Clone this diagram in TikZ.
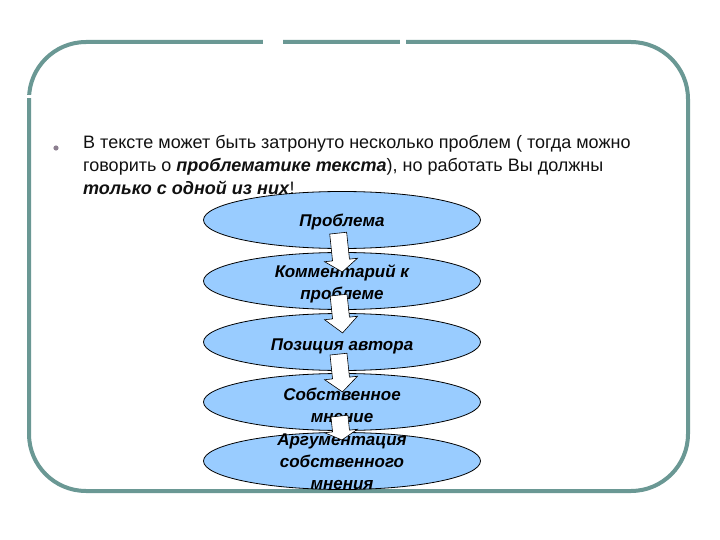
\documentclass[tikz,border=0pt]{standalone}
\usepackage{fontspec}
\setmainfont{Liberation Sans}
\usetikzlibrary{shapes.geometric}
\definecolor{framec}{HTML}{6A9894}
\definecolor{ovalfill}{HTML}{99CCFF}
\definecolor{bulletc}{HTML}{8C7F90}
\definecolor{bodytext}{HTML}{111111}
\newcommand\blockarrowat[5]{%
  \draw[barrow, rotate around={#5:(#1,#3)}]
    (#1-8.5,#2) -- (#1+8.5,#2) -- (#1+8.5,#3) -- (#1+16.5,#3) -- (#1,#4)
    -- (#1-16.5,#3) -- (#1-8.5,#3) -- cycle;}
\begin{document}
\begin{tikzpicture}[x=1pt,y=-1pt,
  oval/.style={ellipse, draw=black, line width=0.8pt, fill=ovalfill,
    minimum width=277pt, minimum height=57pt, inner sep=0pt},
  otext/.style={font=\fontsize{17}{22}\selectfont\bfseries\itshape,
    align=center, text=black, inner sep=0pt},
  barrow/.style={draw=black, fill=white, line width=0.6pt, line join=miter}]
\useasboundingbox (0,0) rectangle (720,540);
\fill[white] (0,0) rectangle (720,540);
% frame
\draw[framec, line width=4pt, rounded corners=57pt] (29,42) rectangle (688,491);
\fill[white] (263,38) rectangle (283,46);
\fill[white] (400,38) rectangle (406,46);
\fill[white] (26,95) rectangle (32,98);
% bullet and text
\fill[bulletc] (56,148) circle (2.6);
\node[anchor=north west, inner sep=0pt, align=left, text=bodytext,
  font=\fontsize{18}{23}\selectfont] (txt) at (83,135)
  {В тексте может быть затронуто несколько проблем ( тогда можно\\
   говорить о \textbf{\textit{проблематике текста}}), но работать Вы должны\\
   \textbf{\textit{только с одной из них}}!};
% ovals
\node[oval] (e1) at (342,220) {};
\node[oval] (e2) at (342,281) {};
\node[oval] (e3) at (342,342) {};
\node[oval] (e4) at (342,402) {};
\node[oval] (e5) at (342,461) {};
\node[otext] (t1) at ([yshift=-2]e1.center) {Проблема};
\node[otext] (t2) at ([yshift=-3]e2.center) {Комментарий к\\проблеме};
\node[otext] (t3) at ([yshift=-4]e3.center) {Позиция автора};
\node[otext] (t4) at ([yshift=-3]e4.center) {Собственное\\мнение};
\node[otext] (t5) at ([yshift=-1]e5.center) {Аргументация\\собственного\\мнения};
% block arrows
\blockarrowat{341}{233}{260}{272}{6}
\blockarrowat{341}{295}{318}{333}{6}
\blockarrowat{341}{354}{378}{392}{6}
\blockarrowat{341}{416}{431}{440}{6}
\end{tikzpicture}
\end{document}
